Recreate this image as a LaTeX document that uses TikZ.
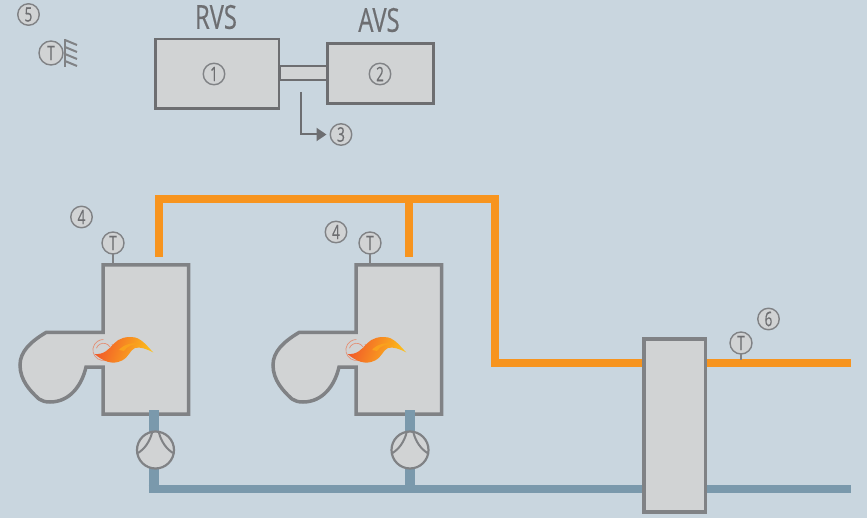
\documentclass[tikz,border=0pt]{standalone}
\usepackage{fontspec}
\setmainfont[FakeStretch=0.68,FakeBold=0.25]{Open Sans}
\newfontfamily\titlefont[FakeStretch=0.72,FakeBold=0.45]{Open Sans}
\usetikzlibrary{arrows.meta}
\definecolor{bgc}{HTML}{C9D6DF}
\definecolor{fillg}{HTML}{D1D3D4}
\definecolor{strokeg}{HTML}{808285}
\definecolor{darkg}{HTML}{6D6E71}
\definecolor{hotpipe}{HTML}{F7941E}
\definecolor{coldpipe}{HTML}{7A99AC}
\definecolor{flameA}{HTML}{F15A29}
\definecolor{flameB}{HTML}{FDC01A}
\tikzset{
  unitbox/.style={draw=darkg,fill=fillg,line width=2.6pt,inner sep=0pt,outer sep=0pt},
  plantbox/.style={draw=strokeg,fill=fillg,line width=3.5pt,line join=miter},
  ref/.style={circle,draw=strokeg,fill=fillg,line width=1.4pt,minimum size=21.5pt,inner sep=0pt,outer sep=0pt,text=darkg,font=\fontsize{20}{20}\selectfont},
  title/.style={text=darkg,inner sep=0pt,font=\titlefont\fontsize{33}{33}\selectfont},
  hot/.style={draw=hotpipe,line width=8pt,line join=miter},
  coldv/.style={draw=coldpipe,line width=10pt},
  cold/.style={draw=coldpipe,line width=8.5pt,line join=miter},
  pumpc/.style={circle,draw=strokeg,fill=fillg,line width=2.2pt,minimum size=37pt,inner sep=0pt,outer sep=0pt},
  pumpl/.style={draw=strokeg,line width=2pt},
  stem/.style={draw=strokeg,line width=2.6pt},
  ring/.style={draw=flameA!55!fillg,line width=.7pt}
}
\newcommand{\burner}[1]{%
  \begin{scope}[shift={(#1,0)}]
    \draw[plantbox] (103,265) -- (188.5,265) -- (188.5,414) -- (103,414) -- (103,367) -- (86,367)
      .. controls (82,385) and (70,402) .. (50,402)
      .. controls (45,402) and (42,401) .. (39,399)
      .. controls (30,391) and (20,380) .. (20,365)
      .. controls (20,352) and (30,342) .. (46,332.5) -- (103,332.5) -- cycle;
    \draw[ring] (112,344) arc (35:-270:10.5pt and 10.5pt);
    \draw[ring] (110,347) arc (30:160:7.5pt);
    \shade[left color=flameA,right color=flameB,shading angle=70]
      (94.5,354) .. controls (104,355) and (109,349) .. (114,343.5)
      .. controls (119,338) and (127,336) .. (135,337.5)
      .. controls (142,339) and (148,347) .. (153.3,352.5)
      .. controls (147,349) and (140,346.5) .. (135,348)
      .. controls (130,350) and (129,357) .. (122,360.5)
      .. controls (112,365.5) and (103,361) .. (94.5,354) -- cycle;
    \fill[hotpipe!70!flameB] (119,350) .. controls (124,344) and (133,342) .. (141,344)
      .. controls (133,344) and (127,346) .. (124,351) -- cycle;
  \end{scope}}
\begin{document}
\begin{tikzpicture}[x=1pt,y=-1pt]
\useasboundingbox (0,0) rectangle (867,518);
\fill[bgc] (0,0) rectangle (867,518);

% burners
\burner{0}
\burner{253}

% pipes
\coordinate (h1) at (159,257);
\coordinate (h1c) at (159,199);
\coordinate (h2) at (409,257);
\coordinate (h2c) at (409,199);
\coordinate (hc) at (495,199);
\coordinate (hd) at (495,363);
\coordinate (hout) at (851,363);
\coordinate (c1) at (153.5,410);
\coordinate (c1d) at (153.5,493);
\coordinate (c1h) at (148.5,489);
\coordinate (c2) at (410,410);
\coordinate (c2d) at (410,489);
\coordinate (cout) at (851,489);
\draw[cold] (c1h) -- (cout);
\draw[coldv] (c1) -- (c1d);
\draw[coldv] (c2) -- (c2d);
\draw[hot] (h1) -- (h1c) -- (hc) -- (hd) -- (hout);
\draw[hot] (h2) -- (h2c);

% top units
\node[draw=darkg,fill=fillg,line width=2pt,inner sep=0pt,outer sep=0pt,minimum width=47pt,minimum height=14pt] (link) at (303,73.5) {};
\node[unitbox,minimum width=123.4pt,minimum height=69.4pt] (rvs) at (217.3,73.7) {};
\node[unitbox,minimum width=106pt,minimum height=60pt] (avs) at (380.5,73.5) {};
\node[title] (trvs) at (216,17) {RVS};
\node[title] (tavs) at (379,20) {AVS};
\node[ref] (n1) at (214,74) {1};
\node[ref] (n2) at (380,74) {2};
\node[ref] (n3) at (341,134.5) {3};
\coordinate (tap) at (300.5,92);
\coordinate (tip) at (326.5,134.5);
\draw[draw=darkg,line width=2pt,-{Triangle[length=10pt,width=13pt]}] (tap) |- (tip);

% room sensor
\node[ref] (n5) at (28.5,14.5) {5};
\node[ref,minimum size=24pt] (troom) at (51,53) {T};
\coordinate (w1) at (65,39);
\coordinate (w2) at (65,67);
\draw[strokeg,line width=2.4pt] (w1) -- (w2);
\foreach \yy in {40,47,54,61}
  \draw[strokeg,line width=2pt] (65,\yy) -- (77,\yy+5);

\coordinate (s1) at (113,264);
\draw[stem] (113,243) -- (s1);
\node[ref,minimum size=22pt] (t1) at (113,243) {T};
\coordinate (s2) at (370,264);
\draw[stem] (370,243) -- (s2);
\node[ref,minimum size=22pt] (t2) at (370,243) {T};
\node[ref] (n4a) at (81.5,217) {4};
\node[ref] (n4b) at (336,232) {4};

% pumps
\foreach \cx/\nm in {155.5/pa,410/pb}{
  \node[pumpc] (\nm) at (\cx,450) {};
  \draw[pumpl] (\cx-3.5,433) .. controls (\cx-6,442) and (\cx-11,449) .. (\cx-17.5,453);
  \draw[pumpl] (\cx+3.5,433) .. controls (\cx+6,442) and (\cx+11,449) .. (\cx+17.5,453);
}

% exchanger
\node[draw=strokeg,fill=fillg,line width=3.7pt,inner sep=0pt,outer sep=0pt,minimum width=61.6pt,minimum height=172.7pt] (hx) at (674.7,425.5) {};

% outlet sensor
\coordinate (s3) at (741,360);
\draw[stem] (741,343) -- (s3);
\node[ref,minimum size=22pt] (t3) at (741,343) {T};
\node[ref] (n6) at (768.5,319) {6};
\end{tikzpicture}
\end{document}
